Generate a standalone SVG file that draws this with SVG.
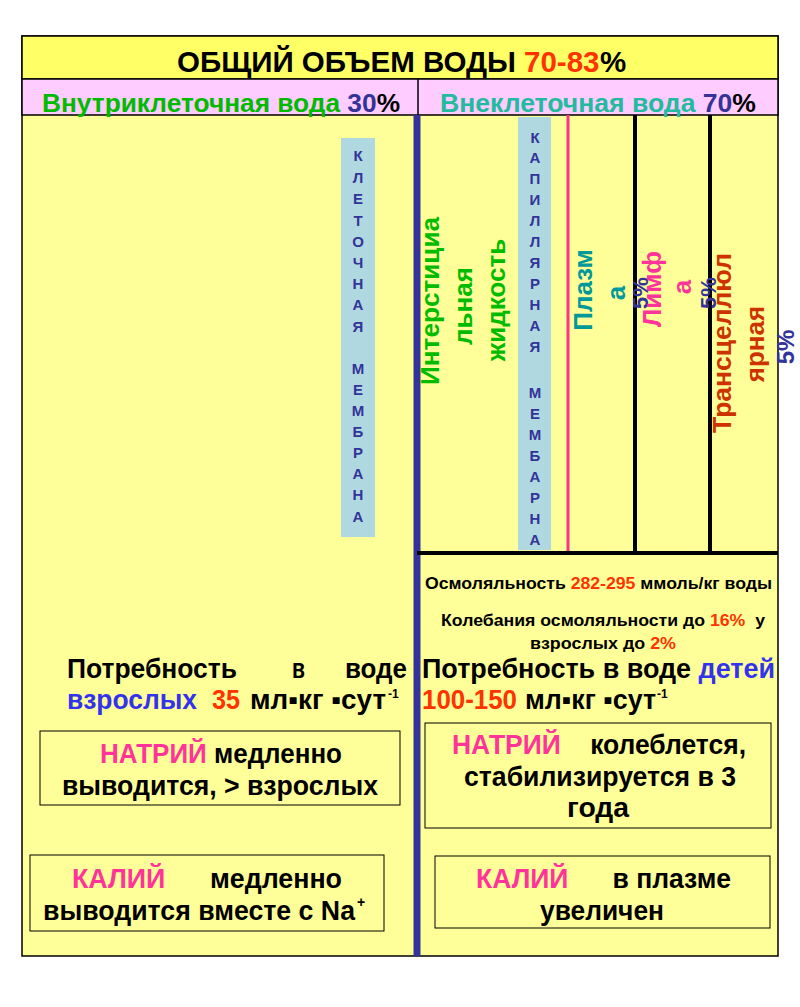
<svg xmlns="http://www.w3.org/2000/svg" width="800" height="1007" viewBox="0 0 800 1007">
<defs>
<style>
text{font-family:"Liberation Sans",Arial,sans-serif;font-weight:bold;}
.blk{fill:#000}
.red{fill:#FF3300}
.dblue{fill:#333399}
.blue{fill:#3333EE}
.pink{fill:#FF3399}
.green{fill:#00BB00}
.teal{fill:#22BBA0}
.plasma{fill:#009999}
.orange{fill:#CC3300}
.mem{fill:#333399;font-size:15px;text-anchor:middle}
.rot{font-size:26px;text-anchor:middle}
.box{fill:#FFFF99;stroke:#000;stroke-width:1}
.h26{font-size:27px}
.mid{text-anchor:middle}
.ttl{font-size:29.5px}
</style>
</defs>
<rect x="0" y="0" width="800" height="1007" fill="#FFFFFF"/>
<g id="frame">
<rect x="22" y="36" width="756" height="920" fill="#FFFF99" stroke="#000" stroke-width="1.5"/>
<rect x="22" y="36" width="756" height="43" fill="#FFFF66" stroke="#000" stroke-width="1.5"/>
<rect x="22" y="79" width="756" height="36" fill="#FFCCFF" stroke="#000" stroke-width="1.5"/>
<line x1="418" y1="79" x2="418" y2="115" stroke="#000" stroke-width="1.5"/>
</g>
<g id="title">
<text x="177" y="72" class="ttl blk">ОБЩИЙ ОБЪЕМ ВОДЫ</text>
<text x="524" y="72" class="ttl red">70-83</text>
<text x="600" y="72" class="ttl blk">%</text>
</g>
<g id="intracellular-header">
<text x="42" y="112" font-size="26" textLength="358" lengthAdjust="spacingAndGlyphs" class="green">Внутриклеточная вода <tspan class="dblue">30</tspan><tspan class="blk">%</tspan></text>
</g>
<g id="extracellular-header">
<text x="440" y="112" font-size="26" textLength="316" lengthAdjust="spacingAndGlyphs" class="teal">Внеклеточная вода <tspan class="dblue">70</tspan><tspan class="blk">%</tspan></text>
</g>
<g id="connectors">
<line x1="417" y1="115" x2="417" y2="956" stroke="#333399" stroke-width="7"/>
<line x1="568" y1="115" x2="568" y2="553" stroke="#FF3388" stroke-width="3"/>
<line x1="635" y1="115" x2="635" y2="553" stroke="#000" stroke-width="4"/>
<line x1="710" y1="115" x2="710" y2="553" stroke="#000" stroke-width="4"/>
<line x1="417" y1="553" x2="778" y2="553" stroke="#000" stroke-width="4"/>
</g>
<g id="cell-membrane">
<rect x="341" y="138" width="34" height="399" fill="#B0D8E0"/>
<text x="358" y="161" class="mem">К</text>
<text x="358" y="183" class="mem">Л</text>
<text x="358" y="204" class="mem">Е</text>
<text x="358" y="226" class="mem">Т</text>
<text x="358" y="247" class="mem">О</text>
<text x="358" y="268" class="mem">Ч</text>
<text x="358" y="289" class="mem">Н</text>
<text x="358" y="310" class="mem">А</text>
<text x="358" y="332" class="mem">Я</text>
<text x="358" y="374" class="mem">М</text>
<text x="358" y="395" class="mem">Е</text>
<text x="358" y="416" class="mem">М</text>
<text x="358" y="437" class="mem">Б</text>
<text x="358" y="458" class="mem">Р</text>
<text x="358" y="479" class="mem">А</text>
<text x="358" y="500" class="mem">Н</text>
<text x="358" y="522" class="mem">А</text>
</g>
<g id="capillary-membrane">
<rect x="518" y="117" width="33" height="433" fill="#B0D8E0"/>
<text x="535" y="143" class="mem">К</text>
<text x="535" y="163" class="mem">А</text>
<text x="535" y="184" class="mem">П</text>
<text x="535" y="205" class="mem">И</text>
<text x="535" y="226" class="mem">Л</text>
<text x="535" y="247" class="mem">Л</text>
<text x="535" y="268" class="mem">Я</text>
<text x="535" y="289" class="mem">Р</text>
<text x="535" y="310" class="mem">Н</text>
<text x="535" y="331" class="mem">А</text>
<text x="535" y="352" class="mem">Я</text>
<text x="535" y="398" class="mem">М</text>
<text x="535" y="419" class="mem">Е</text>
<text x="535" y="440" class="mem">М</text>
<text x="535" y="461" class="mem">Б</text>
<text x="535" y="482" class="mem">А</text>
<text x="535" y="503" class="mem">Р</text>
<text x="535" y="524" class="mem">Н</text>
<text x="535" y="545" class="mem">А</text>
</g>
<g id="interstitial">
<text transform="translate(439,301) rotate(-90)" class="rot green" textLength="168" lengthAdjust="spacingAndGlyphs">Интерстициа</text>
<text transform="translate(472,306) rotate(-90)" class="rot green">льная</text>
<text transform="translate(505,300) rotate(-90)" class="rot green">жидкость</text>
</g>
<g id="plasma">
<text transform="translate(592,290) rotate(-90)" class="rot plasma">Плазм</text>
<text transform="translate(625,293) rotate(-90)" class="rot plasma">а</text>
<text transform="translate(648,293) rotate(-90)" font-size="22" class="dblue mid">5%</text>
</g>
<g id="lymph">
<text transform="translate(661,289) rotate(-90)" class="rot pink">Лимф</text>
<text transform="translate(691,287) rotate(-90)" class="rot pink">а</text>
<text transform="translate(716,293) rotate(-90)" font-size="22" class="dblue mid">5%</text>
</g>
<g id="transcellular">
<text transform="translate(731,343) rotate(-90)" class="rot orange" textLength="180" lengthAdjust="spacingAndGlyphs">Трансцеллюл</text>
<text transform="translate(764,344) rotate(-90)" class="rot orange">ярная</text>
<text transform="translate(794,347) rotate(-90)" font-size="24" class="dblue mid">5%</text>
</g>
<g id="osmolality">
<text x="425" y="589" font-size="16" class="blk" textLength="347" lengthAdjust="spacingAndGlyphs">Осмоляльность <tspan class="red">282-295</tspan> ммоль/кг воды</text>
<text x="441" y="626" font-size="16" class="blk" textLength="324" lengthAdjust="spacingAndGlyphs" xml:space="preserve">Колебания осмоляльности до <tspan class="red">16%</tspan>  у</text>
<text x="530" y="649" font-size="16" class="blk" textLength="146" lengthAdjust="spacingAndGlyphs">взрослых до <tspan class="red">2%</tspan></text>
</g>
<g id="need-adults">
<text x="67" y="678" class="h26 blk" textLength="170" lengthAdjust="spacingAndGlyphs">Потребность</text>
<text x="292" y="678" class="h26 blk" textLength="13" lengthAdjust="spacingAndGlyphs">в</text>
<text x="345" y="678" class="h26 blk" textLength="62" lengthAdjust="spacingAndGlyphs">воде</text>
<text x="67" y="709" class="h26 blue" textLength="130" lengthAdjust="spacingAndGlyphs">взрослых</text>
<text x="212" y="709" class="h26 red" textLength="28" lengthAdjust="spacingAndGlyphs">35</text>
<text x="250" y="709" class="h26 blk" textLength="136" lengthAdjust="spacingAndGlyphs">мл▪кг ▪сут</text>
<text x="388" y="698" font-size="12" class="blk">-1</text>
</g>
<g id="need-children">
<text x="422" y="678" class="h26 blk" textLength="353" lengthAdjust="spacingAndGlyphs">Потребность в воде <tspan class="blue">детей</tspan></text>
<text x="422" y="709" class="h26 red" textLength="95" lengthAdjust="spacingAndGlyphs">100-150</text>
<text x="525" y="709" class="h26 blk" textLength="131" lengthAdjust="spacingAndGlyphs">мл▪кг ▪сут</text>
<text x="657" y="698" font-size="12" class="blk">-1</text>
</g>
<g id="sodium-adults">
<rect x="40" y="731" width="360" height="74" class="box"/>
<text x="100" y="763" class="h26 blk" textLength="242" lengthAdjust="spacingAndGlyphs"><tspan class="pink">НАТРИЙ</tspan> медленно</text>
<text x="62" y="795" class="h26 blk" textLength="316" lengthAdjust="spacingAndGlyphs">выводится, &gt; взрослых</text>
</g>
<g id="sodium-children">
<rect x="425" y="723" width="346" height="105" class="box"/>
<text x="452" y="754" class="h26 blk" textLength="294" lengthAdjust="spacingAndGlyphs" xml:space="preserve"><tspan class="pink">НАТРИЙ</tspan>    колеблется,</text>
<text x="464" y="786" class="h26 blk" textLength="272" lengthAdjust="spacingAndGlyphs">стабилизируется в 3</text>
<text x="567" y="817" class="h26 blk" textLength="62" lengthAdjust="spacingAndGlyphs">года</text>
</g>
<g id="potassium-adults">
<rect x="30" y="855" width="354" height="76" class="box"/>
<text x="72" y="888" class="h26 blk" textLength="270" lengthAdjust="spacingAndGlyphs" xml:space="preserve"><tspan class="pink">КАЛИЙ</tspan>      медленно</text>
<text x="43" y="920" class="h26 blk" textLength="312" lengthAdjust="spacingAndGlyphs">выводится вместе с Na</text>
<text x="357" y="907" font-size="14" class="blk">+</text>
</g>
<g id="potassium-children">
<rect x="435" y="856" width="335" height="72" class="box"/>
<text x="476" y="888" class="h26 blk" textLength="255" lengthAdjust="spacingAndGlyphs" xml:space="preserve"><tspan class="pink">КАЛИЙ</tspan>      в плазме</text>
<text x="540" y="920" class="h26 blk" textLength="124" lengthAdjust="spacingAndGlyphs">увеличен</text>
</g>
</svg>
